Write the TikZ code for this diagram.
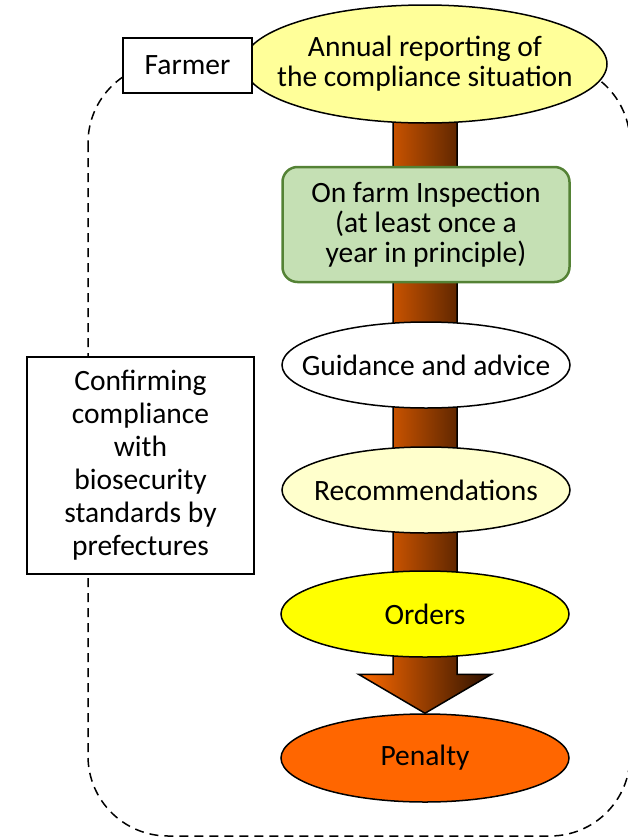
\documentclass[tikz,border=0pt]{standalone}
\usepackage{fontspec}
\setmainfont{Carlito}
\usetikzlibrary{shapes.geometric, calc, backgrounds}
\definecolor{reportfill}{HTML}{FFFF99}
\definecolor{inspectfill}{HTML}{C5E0B4}
\definecolor{inspectline}{HTML}{548235}
\definecolor{recomfill}{HTML}{FFFFCC}
\definecolor{orderfill}{HTML}{FFFF00}
\definecolor{penaltyfill}{HTML}{FF6600}
\definecolor{arrowlight}{HTML}{FF6A00}
\definecolor{arrowdark}{HTML}{2A1000}

\begin{document}
\begin{tikzpicture}[x=1pt, y=-1pt, font=\fontsize{29.5}{30}\selectfont,
    stage/.style={ellipse, draw, line width=1.5pt, minimum width=288pt, minimum height=86pt, inner xsep=-90pt, inner ysep=-25pt, align=center},
    plainbox/.style={rectangle, draw, line width=1.5pt, fill=white, inner sep=0pt, align=center}]
    \useasboundingbox (0,0) rectangle (628,838);
    % Steps down the column
    \node[stage, fill=reportfill, minimum width=364pt, minimum height=118pt] (report) at (425,64) {Annual reporting of\\the compliance situation};
    \node[plainbox, minimum width=129pt, minimum height=55pt] (farmer) at (187.5,65.5) {Farmer};
    \node[rectangle, rounded corners=15pt, draw=inspectline, line width=2.5pt, fill=inspectfill, minimum width=287pt, minimum height=115pt, align=center] (inspect) at (426,224.5) {On farm Inspection\\(at least once a\\year in principle)};
    \node[stage, fill=white] (guidance) at (426,365) {Guidance and advice};
    \node[stage, fill=recomfill] (recom) at (426,490) {Recommendations};
    \node[stage, fill=orderfill] (orders) at (425,614) {Orders};
    \node[stage, fill=penaltyfill, minimum height=88pt] (penalty) at (425,758) {Penalty};
    % Prefecture box
    \node[plainbox, minimum width=227pt, minimum height=217pt, font=\fontsize{29.5}{33}\selectfont] (confirm) at (140.5,465.5) {Confirming\\compliance\\with\\biosecurity\\standards by\\prefectures};
    \begin{scope}[on background layer]
        % Dashed frame
        \draw[line width=1.5pt, dash pattern=on 9pt off 6pt, rounded corners=80pt] (88,63) rectangle (630,836);
        % Big arrow
        \shade[left color=arrowlight, right color=arrowdark, draw, line width=1.5pt]
            ($(report.center)+(-32,0)$) -- ($(penalty.north)+(-32,-39)$) -- ($(penalty.north)+(-66.5,-39)$)
            -- (penalty.north) -- ($(penalty.north)+(66.5,-39)$) -- ($(penalty.north)+(32,-39)$)
            -- ($(report.center)+(32,0)$) -- cycle;
    \end{scope}
\end{tikzpicture}
\end{document}
